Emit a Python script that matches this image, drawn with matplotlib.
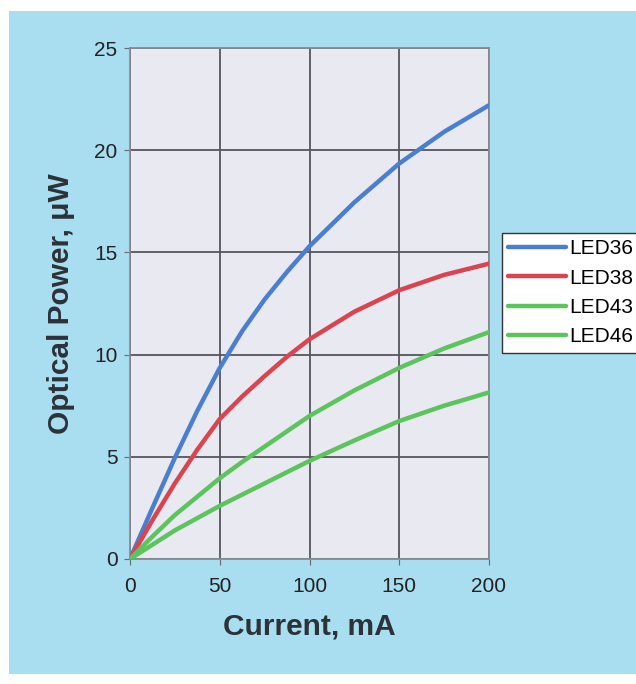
import matplotlib.pyplot as plt
from matplotlib.patches import Rectangle

plt.rcParams['font.family'] = ['Liberation Sans', 'DejaVu Sans']

# current, mA
current = [0, 12.5, 25, 37.5, 50, 62.5, 75, 87.5, 100, 125, 150, 175, 200]
# optical power, uW
led36 = [0, 2.5, 4.95, 7.25, 9.35, 11.15, 12.7, 14.05, 15.3, 17.45, 19.35, 20.9, 22.2]
led38 = [0, 1.9, 3.7, 5.35, 6.85, 7.95, 8.95, 9.9, 10.75, 12.1, 13.15, 13.9, 14.45]
led43 = [0, 1.1, 2.15, 3.05, 3.95, 4.75, 5.5, 6.25, 7.0, 8.25, 9.35, 10.3, 11.1]
led46 = [0, 0.7, 1.4, 2.0, 2.6, 3.15, 3.7, 4.25, 4.8, 5.8, 6.75, 7.5, 8.15]

labels = ['LED36', 'LED38', 'LED43', 'LED46']
colors = ['#4A7FCF', '#D9444F', '#5CC45C', '#5CC45C']
xticks = [0, 50, 100, 150, 200]
yticks = [0, 5, 10, 15, 20, 25]

fig = plt.figure(figsize=(6.36, 6.84), dpi=100)
fig.patch.set_facecolor('white')
# light blue panel behind everything
fig.patches.append(Rectangle((9 / 636, 1 - 674 / 684), 1, (674 - 11) / 684,
                             transform=fig.transFigure, facecolor='#A9DDF0',
                             edgecolor='none', zorder=-10))

ax = fig.add_axes([130 / 636, 1 - 559 / 684, 359 / 636, 511 / 684])
ax.set_zorder(2)
ax.set_facecolor('#E9E9F1')

for y, lab, c in zip([led36, led38, led43, led46], labels, colors):
    ax.plot(current, y, color=c, lw=3.2, label=lab, solid_capstyle='round',
            solid_joinstyle='round', zorder=3)

ax.set_xlim(0, 200)
ax.set_ylim(0, 25)
ax.set_xticks(xticks)
ax.set_yticks(yticks)
ax.grid(True, color='#55555B', lw=1.3)
ax.set_axisbelow(True)
for s in ax.spines.values():
    s.set_color('#8A8A90')
    s.set_linewidth(1.3)
ax.tick_params(direction='out', length=4, color='#6A6A70', labelsize=15,
               labelcolor='#222222', pad=5)
ax.tick_params(axis='x', pad=9)

ax.set_xlabel('Current, mA', fontsize=21.5, fontweight='bold', color='#2B3238', labelpad=12)
ax.set_ylabel('Optical Power, \u03bcW', fontsize=21.5, fontweight='bold', color='#2B3238', labelpad=14)

leg = fig.legend(loc='upper left', bbox_to_anchor=(502 / 636, 1 - 233 / 684),
                 fontsize=15, handlelength=2.75, handletextpad=0.2,
                 labelspacing=0.5, borderpad=0.3, borderaxespad=0,
                 fancybox=False, framealpha=1, edgecolor='#333333')
leg.get_frame().set_linewidth(1.0)
leg.set_zorder(5)

fig.savefig('out.png', dpi=100, facecolor=fig.get_facecolor())
